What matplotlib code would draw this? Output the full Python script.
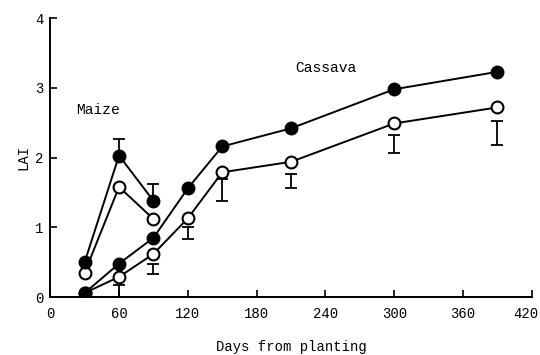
import numpy as np
import matplotlib.pyplot as plt
import matplotlib.transforms as mtransforms

plt.rcParams['font.family'] = ['Liberation Mono', 'DejaVu Sans Mono']

# Maize
maize_days = np.array([30, 60, 90])
maize_filled = np.array([0.50, 2.03, 1.38])
maize_open = np.array([0.35, 1.58, 1.12])
maize_bar_days = np.array([60, 90])
maize_bar_lo = np.array([2.03, 1.38])
maize_bar_hi = np.array([2.27, 1.62])

# Cassava
cas_days = np.array([30, 60, 90, 120, 150, 210, 300, 390])
cas_filled = np.array([0.06, 0.48, 0.85, 1.56, 2.16, 2.42, 2.98, 3.23])
cas_open = np.array([0.06, 0.29, 0.62, 1.13, 1.79, 1.94, 2.49, 2.72])
cas_bar_days = np.array([60, 90, 120, 150, 210, 300, 390])
cas_bar_lo = np.array([0.00, 0.33, 0.83, 1.38, 1.57, 2.07, 2.18])
cas_bar_hi = np.array([0.17, 0.48, 1.00, 1.69, 1.77, 2.32, 2.52])

fig = plt.figure(figsize=(5.4, 3.55), dpi=100)
ax = fig.add_axes([0.093, 0.163, 0.892, 0.786])

mk = dict(markersize=8.5, linewidth=1.4, color='black', markeredgewidth=1.5)
ax.plot(cas_days, cas_open, marker='o', markerfacecolor='white', **mk, zorder=3)
ax.plot(cas_days, cas_filled, marker='o', markerfacecolor='black', **mk, zorder=4)
ax.plot(maize_days, maize_open, marker='o', markerfacecolor='white', **mk, zorder=3)
ax.plot(maize_days, maize_filled, marker='o', markerfacecolor='black', **mk, zorder=4)

for d, lo, hi in [(maize_bar_days, maize_bar_lo, maize_bar_hi),
                  (cas_bar_days, cas_bar_lo, cas_bar_hi)]:
    ax.errorbar(d, (lo + hi) / 2, yerr=(hi - lo) / 2, fmt='none',
                ecolor='black', elinewidth=1.3, capsize=4, capthick=1.3, zorder=2)

ax.text(23, 2.62, 'Maize', fontsize=10.5)
ax.text(214, 3.23, 'Cassava', fontsize=10.5)

ax.set_xlim(0, 420)
ax.set_ylim(0, 4)
ax.set_xticks(np.arange(0, 421, 60))
ax.set_yticks([0, 1, 2, 3, 4])
ax.tick_params(direction='in', length=5, width=1.2, labelsize=10)
ax.tick_params(axis='x', pad=7)
ax.tick_params(axis='y', pad=5)
ax.spines['top'].set_visible(False)
ax.spines['right'].set_visible(False)
for s in ['left', 'bottom']:
    ax.spines[s].set_linewidth(1.4)

ax.set_xlabel('Days from planting', fontsize=10, labelpad=14)
ax.set_ylabel('LAI', fontsize=10, labelpad=3)

# keep the last x label inside the figure
last = ax.get_xticklabels()[-1]
last.set_transform(last.get_transform() +
                   mtransforms.ScaledTranslation(-6 / 100, 0, fig.dpi_scale_trans))

fig.savefig('out.png', dpi=100)
